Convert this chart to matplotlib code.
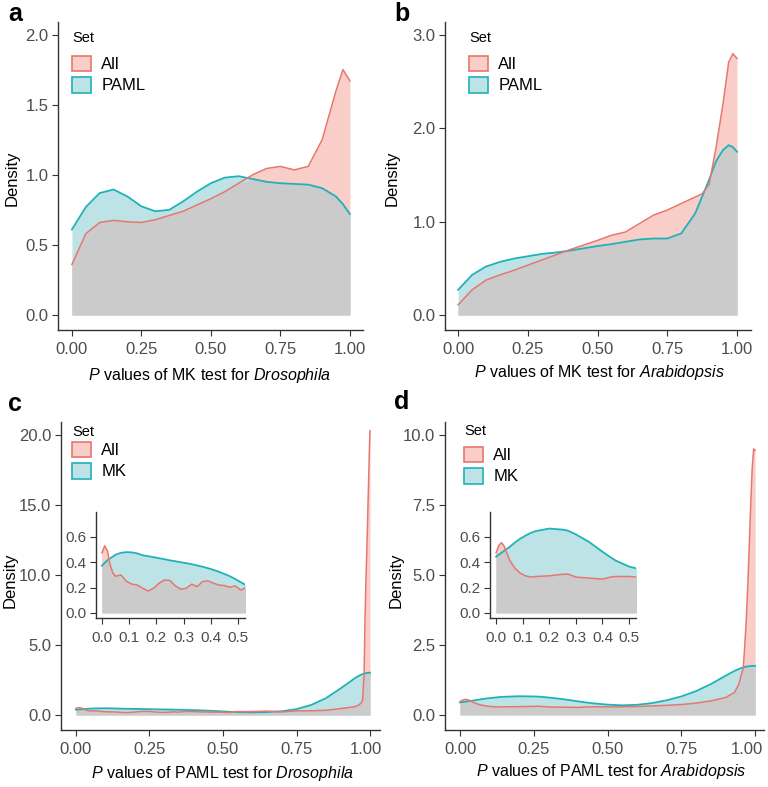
import matplotlib
matplotlib.use('Agg')
import matplotlib.pyplot as plt
import matplotlib.transforms as mtransforms
import numpy as np
from matplotlib.patches import Patch
from matplotlib.ticker import FormatStrFormatter

plt.rcParams['font.family'] = ['Liberation Sans', 'DejaVu Sans']
plt.rcParams['mathtext.fontset'] = 'custom'
plt.rcParams['mathtext.rm'] = 'Liberation Sans'
plt.rcParams['mathtext.it'] = 'Liberation Sans:italic'

# Density curves (x = P value, y = density)
# panel a: MK test P values, Drosophila
x_a = [0, .05, .1, .15, .2, .25, .3, .35, .4, .45, .5, .55, .6, .65, .7, .75, .8, .85, .9, .95, .975, 1.0]
all_a = [0.36, 0.58, 0.66, 0.675, 0.665, 0.66, 0.68, 0.71, 0.74, 0.785, 0.83, 0.88, 0.94, 1.0, 1.045,
         1.06, 1.035, 1.06, 1.25, 1.6, 1.75, 1.67]
paml_a = [0.61, 0.77, 0.87, 0.895, 0.845, 0.775, 0.74, 0.75, 0.81, 0.88, 0.94, 0.98, 0.99, 0.97, 0.95,
          0.94, 0.935, 0.93, 0.905, 0.845, 0.79, 0.72]

# panel b: MK test P values, Arabidopsis
x_b = [0, .05, .1, .15, .2, .25, .3, .35, .4, .45, .5, .55, .6, .65, .7, .75, .8, .85, .875, .9, .925,
       .95, .97, .985, 1.0]
all_b = [0.11, 0.27, 0.375, 0.43, 0.48, 0.535, 0.59, 0.645, 0.70, 0.75, 0.80, 0.855, 0.89, 0.98, 1.07,
         1.125, 1.195, 1.265, 1.30, 1.40, 1.80, 2.27, 2.71, 2.80, 2.75]
paml_b = [0.27, 0.43, 0.52, 0.57, 0.605, 0.63, 0.655, 0.67, 0.69, 0.715, 0.74, 0.76, 0.785, 0.81, 0.82,
          0.82, 0.875, 1.09, 1.27, 1.45, 1.65, 1.77, 1.82, 1.80, 1.75]

# panel c: PAML test P values, Drosophila
x_c = [0, .01, .02, .03, .04, .05, .07, .09, .11, .13, .15, .17, .19, .21, .23, .25, .27, .29, .31, .33,
       .35, .37, .39, .41, .43, .45, .47, .49, .51, .53, .55, .6, .65, .7, .75, .8, .85, .9, .95,
       .96, .97, .975, .98, .983, .986, .989, .992, .995, .998, 1.0]
all_c = [0.475, 0.53, 0.49, 0.38, 0.315, 0.29, 0.30, 0.25, 0.227, 0.22, 0.195, 0.173, 0.195, 0.235,
         0.26, 0.256, 0.213, 0.187, 0.195, 0.227, 0.208, 0.248, 0.253, 0.235, 0.22, 0.216, 0.203, 0.213,
         0.181, 0.20, 0.24, 0.25, 0.28, 0.22, 0.30, 0.30, 0.34, 0.46, 0.6,
         0.7, 0.85, 1.1, 3.0, 6.8, 9.5, 11.6, 14.0, 16.5, 19.0, 20.3]
mk_c = [0.373, 0.395, 0.416, 0.43, 0.445, 0.46, 0.475, 0.48, 0.478, 0.47, 0.455, 0.448, 0.44, 0.432,
        0.424, 0.415, 0.408, 0.40, 0.393, 0.385, 0.375, 0.365, 0.353, 0.34, 0.325, 0.308, 0.29, 0.268,
        0.243, 0.22, 0.20, 0.19, 0.21, 0.27, 0.42, 0.72, 1.2, 1.9, 2.65,
        2.78, 2.88, 2.92, 2.96, 2.98, 2.99, 3.0, 3.01, 3.02, 3.02, 3.02]

# panel d: PAML test P values, Arabidopsis
x_d = [0, .01, .02, .03, .04, .05, .07, .09, .11, .13, .15, .2, .25, .27, .3, .35, .4, .43, .45, .5,
       .53, .55, .6, .65, .7, .75, .8, .85, .9, .93, .945, .955, .96, .965, .97, .975, .98, .985, .99,
       .995, 1.0]
all_d = [0.475, 0.533, 0.555, 0.528, 0.475, 0.42, 0.355, 0.315, 0.293, 0.283, 0.288, 0.293, 0.305,
         0.307, 0.283, 0.275, 0.267, 0.283, 0.288, 0.288, 0.283, 0.29, 0.30, 0.32, 0.34, 0.37, 0.42,
         0.5, 0.62, 0.8, 1.1, 1.5, 1.7, 2.5, 3.4, 4.6, 6.0, 7.5, 8.8, 9.5, 9.45]
mk_d = [0.444, 0.46, 0.475, 0.49, 0.505, 0.52, 0.555, 0.585, 0.61, 0.632, 0.647, 0.666, 0.658, 0.65,
        0.62, 0.56, 0.483, 0.44, 0.413, 0.366, 0.35, 0.34, 0.36, 0.42, 0.52, 0.66, 0.85, 1.1, 1.4,
        1.57, 1.64, 1.68, 1.7, 1.71, 1.72, 1.73, 1.74, 1.745, 1.75, 1.75, 1.75]

RED = '#E7766E'
TEAL = '#1FB2B7'
PINK = '#F9CEC8'
LIGHTBLUE = '#BEE3E6'
GREY = '#CBCBCB'

W, H = 768, 787
fig = plt.figure(figsize=(W / 100, H / 100), dpi=100)


def px_axes(left, top, right, bottom):
    return fig.add_axes([left / W, 1 - bottom / H, (right - left) / W, (bottom - top) / H])


def style(ax, labelsize=12):
    for s in ('top', 'right'):
        ax.spines[s].set_visible(False)
    for s in ('left', 'bottom'):
        ax.spines[s].set_color('#333333')
        ax.spines[s].set_linewidth(1.0)
    ax.tick_params(labelsize=labelsize, labelcolor='#4D4D4D', color='#333333',
                   length=4, width=0.8)
    ax.tick_params(axis='x', pad=5)
    ax.tick_params(axis='y', pad=3)


def draw(ax, x, ref, other):
    x = np.asarray(x)
    ref = np.asarray(ref)
    other = np.asarray(other)
    ax.fill_between(x, 0, ref, color=PINK, lw=0)
    ax.fill_between(x, 0, other, color=LIGHTBLUE, lw=0)
    ax.fill_between(x, 0, np.minimum(ref, other), color=GREY, lw=0)
    ax.plot(x, other, color=TEAL, lw=1.3)
    ax.plot(x, ref, color=RED, lw=1.1)


def legend(ax, other_label, left, title_y, keys_top):
    fig.text(left / W, 1 - title_y / H, 'Set', fontsize=10.5, va='center', ha='left')
    handles = [Patch(facecolor=PINK, edgecolor=RED, linewidth=1.2),
               Patch(facecolor=LIGHTBLUE, edgecolor=TEAL, linewidth=1.2)]
    ax.legend(handles, ['All', other_label], loc='upper left',
              bbox_to_anchor=(left / W, 1 - keys_top / H), bbox_transform=fig.transFigure,
              frameon=False, fontsize=12, handlelength=1.15, handleheight=1.05,
              handletextpad=0.6, labelspacing=0.28, borderpad=0, borderaxespad=0)


def labels(ax, xlabel, xl_pos, yl_pos):
    ax.set_xlabel(xlabel, fontsize=11.5, color='black')
    ax.xaxis.set_label_coords(xl_pos[0] / W, 1 - xl_pos[1] / H, transform=fig.transFigure)
    ax.set_ylabel('Density', fontsize=12, color='black')
    ax.yaxis.set_label_coords(yl_pos[0] / W, 1 - yl_pos[1] / H, transform=fig.transFigure)


def shift_last_xlabel(ax, dx_px):
    lab = ax.get_xticklabels()[-1]
    lab.set_transform(lab.get_transform() +
                      mtransforms.ScaledTranslation(dx_px / 100, 0, fig.dpi_scale_trans))


x_ticks = [0, 0.25, 0.5, 0.75, 1.0]
inset_xticks = [0, 0.1, 0.2, 0.3, 0.4, 0.5]
inset_yticks = [0, 0.2, 0.4, 0.6]

# ---- a ----
ax = px_axes(58, 22, 363, 330)
draw(ax, x_a, all_a, paml_a)
ax.set_xlim(-0.05, 1.047)
ax.set_ylim(-0.107, 2.09)
ax.set_xticks(x_ticks)
ax.set_yticks([0, 0.5, 1.0, 1.5, 2.0])
ax.xaxis.set_major_formatter(FormatStrFormatter('%.2f'))
ax.yaxis.set_major_formatter(FormatStrFormatter('%.1f'))
style(ax)
labels(ax, r'$\mathit{P}$ values of MK test for $\mathit{Drosophila}$', (210, 366), (20, 178))
legend(ax, 'PAML', 72, 38, 56)

# ---- b ----
ax = px_axes(445, 22, 751, 330)
draw(ax, x_b, all_b, paml_b)
ax.set_xlim(-0.047, 1.05)
ax.set_ylim(-0.16, 3.14)
ax.set_xticks(x_ticks)
ax.set_yticks([0, 1.0, 2.0, 3.0])
ax.xaxis.set_major_formatter(FormatStrFormatter('%.2f'))
ax.yaxis.set_major_formatter(FormatStrFormatter('%.1f'))
style(ax)
labels(ax, r'$\mathit{P}$ values of MK test for $\mathit{Arabidopsis}$', (599, 363), (400, 178))
legend(ax, 'PAML', 469, 38, 56)

# ---- c ----
ax = px_axes(61, 422, 380, 730)
draw(ax, x_c, all_c, mk_c)
ax.set_xlim(-0.051, 1.034)
ax.set_ylim(-1.07, 20.93)
ax.set_xticks(x_ticks)
ax.set_yticks([0, 5, 10, 15, 20])
ax.xaxis.set_major_formatter(FormatStrFormatter('%.2f'))
ax.yaxis.set_major_formatter(FormatStrFormatter('%.1f'))
style(ax)
shift_last_xlabel(ax, -4)
labels(ax, r'$\mathit{P}$ values of PAML test for $\mathit{Drosophila}$', (222, 764), (18, 580))
legend(ax, 'MK', 72, 432, 442)

ins = px_axes(96, 512, 245, 618)
draw(ins, x_c, all_c, mk_c)
ins.set_xlim(-0.022, 0.526)
ins.set_ylim(-0.04, 0.797)
ins.set_xticks(inset_xticks)
ins.set_yticks(inset_yticks)
ins.xaxis.set_major_formatter(FormatStrFormatter('%.1f'))
ins.yaxis.set_major_formatter(FormatStrFormatter('%.1f'))
ins.patch.set_alpha(0)
style(ins, labelsize=11)

# ---- d ----
ax = px_axes(445, 422, 764, 730)
draw(ax, x_d, all_d, mk_d)
ax.set_xlim(-0.051, 1.03)
ax.set_ylim(-0.54, 10.46)
ax.set_xticks(x_ticks)
ax.set_yticks([0, 2.5, 5, 7.5, 10])
ax.xaxis.set_major_formatter(FormatStrFormatter('%.2f'))
ax.yaxis.set_major_formatter(FormatStrFormatter('%.1f'))
style(ax)
shift_last_xlabel(ax, -8)
labels(ax, r'$\mathit{P}$ values of PAML test for $\mathit{Arabidopsis}$', (611, 762), (404, 580))
legend(ax, 'MK', 464, 431, 447)

ins = px_axes(490, 512, 636, 618)
draw(ins, x_d, all_d, mk_d)
ins.set_xlim(-0.023, 0.526)
ins.set_ylim(-0.04, 0.797)
ins.set_xticks(inset_xticks)
ins.set_yticks(inset_yticks)
ins.xaxis.set_major_formatter(FormatStrFormatter('%.1f'))
ins.yaxis.set_major_formatter(FormatStrFormatter('%.1f'))
ins.patch.set_alpha(0)
style(ins, labelsize=11)

# panel letters
for letter, (px, py) in zip('abcd', [(8, 2), (394, 2), (8, 392), (394, 390)]):
    fig.text(px / W, 1 - py / H, letter, fontsize=18, fontweight='bold', va='top', ha='left')

fig.savefig('out.png', dpi=100)
